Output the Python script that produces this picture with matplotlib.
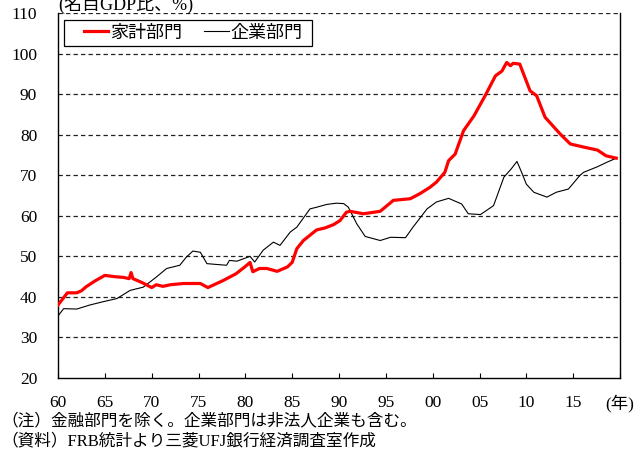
import matplotlib
matplotlib.use("Agg")
import matplotlib.pyplot as plt
from matplotlib.patches import Rectangle

plt.rcParams['font.family'] = ['Liberation Serif', 'Noto Sans CJK JP', 'DejaVu Sans']

# ---- data ----
hh_years = [1960.0, 1960.5, 1961.0, 1962.0, 1962.5, 1963.0, 1964.0, 1965.0, 1966.0, 1967.0,
            1967.6, 1967.8, 1968.0, 1969.0, 1970.0, 1970.5, 1971.2, 1972.0, 1973.4, 1975.2,
            1976.0, 1977.6, 1979.0, 1980.0, 1980.5, 1980.8, 1981.5, 1982.3, 1983.4, 1984.5,
            1985.0, 1985.5, 1986.2, 1987.6, 1988.5, 1989.4, 1990.1, 1990.8, 1991.2, 1992.6,
            1994.4, 1995.8, 1997.6, 1998.6, 1999.7, 2000.4, 2001.3, 2001.7, 2002.4, 2003.3,
            2004.4, 2005.6, 2006.7, 2007.4, 2007.9, 2008.3, 2008.6, 2009.3, 2010.4, 2011.1,
            2012.0, 2013.6, 2014.7, 2016.2, 2017.6, 2018.5, 2019.6]
household = [38.0, 39.5, 41.0, 41.0, 41.5, 42.5, 44.0, 45.3, 45.0, 44.8,
             44.5, 46.0, 44.5, 43.5, 42.3, 43.0, 42.6, 43.0, 43.3, 43.3,
             42.3, 44.0, 45.7, 47.5, 48.5, 46.2, 47.0, 47.0, 46.3, 47.4,
             48.5, 51.9, 53.9, 56.5, 57.0, 57.8, 58.8, 60.9, 61.1, 60.5,
             61.1, 63.8, 64.2, 65.4, 67.0, 68.3, 70.7, 73.6, 75.2, 81.0,
             84.6, 89.6, 94.5, 95.7, 97.8, 97.0, 97.6, 97.4, 90.8, 89.6,
             84.3, 80.2, 77.7, 76.9, 76.2, 74.8, 74.2]

corp_years = [1960.0, 1960.6, 1962.0, 1963.4, 1964.8, 1966.3, 1967.7, 1969.1, 1970.5, 1971.6,
              1973.0, 1973.7, 1974.4, 1975.2, 1975.9, 1976.9, 1978.0, 1978.3, 1979.1, 1980.5,
              1981.0, 1981.9, 1983.0, 1983.7, 1984.8, 1985.5, 1986.9, 1987.6, 1988.7, 1989.7,
              1990.5, 1991.0, 1991.9, 1992.8, 1994.4, 1995.5, 1997.1, 1997.9, 1999.4, 2000.4,
              2001.7, 2003.1, 2003.8, 2005.1, 2006.5, 2007.6, 2008.4, 2009.0, 2009.5, 2010.0,
              2010.8, 2012.2, 2013.2, 2014.5, 2015.7, 2016.1, 2017.6, 2018.6, 2019.6]
corporate = [35.3, 37.1, 37.0, 38.0, 38.8, 39.6, 41.6, 42.4, 44.9, 47.0,
             47.8, 49.8, 51.3, 51.0, 48.2, 48.0, 47.8, 49.0, 48.8, 50.0,
             48.6, 51.5, 53.5, 52.7, 56.0, 57.2, 61.7, 62.1, 62.8, 63.1,
             63.0, 62.1, 58.0, 54.9, 53.9, 54.7, 54.6, 57.2, 61.7, 63.4,
             64.3, 62.9, 60.5, 60.3, 62.5, 69.5, 71.6, 73.4, 70.7, 67.8,
             65.8, 64.6, 65.8, 66.6, 69.9, 70.7, 72.1, 73.2, 74.2]

x_ticks = [1960, 1965, 1970, 1975, 1980, 1985, 1990, 1995, 2000, 2005, 2010, 2015, 2020]
x_labels = ['60', '65', '70', '75', '80', '85', '90', '95', '00', '05', '10', '15', '(年)']
y_ticks = [20, 30, 40, 50, 60, 70, 80, 90, 100, 110]

series_names = ['家計部門', '企業部門']
ylabel = '(名目GDP比、%)'
note1 = '（注）金融部門を除く。企業部門は非法人企業も含む。'
note2 = '（資料）FRB統計より三菱UFJ銀行経済調査室作成'

# ---- figure ----
W, H = 635, 453
fig = plt.figure(figsize=(W/100, H/100), dpi=100)
ax = fig.add_axes([58/W, 75/H, 562/W, 365/H])

ax.plot(corp_years, corporate, color='black', lw=0.8, zorder=3, label=series_names[1])
ax.plot(hh_years, household, color='#ff0000', lw=2.3, zorder=4, label=series_names[0])

ax.set_xlim(1960, 2020)
ax.set_ylim(20, 110)
ax.set_xticks(x_ticks)
ax.set_xticklabels(x_labels)
ax.set_yticks(y_ticks)
ax.tick_params(axis='x', direction='in', length=3.6, width=0.8, pad=12, labelsize=12.5)
ax.tick_params(axis='y', length=0, pad=15, labelsize=12.5)

for yv in y_ticks[1:]:
    ax.axhline(yv, color='#222222', lw=0.9, ls=(0, (3.5, 2.5)), zorder=1)

ax.spines['top'].set_visible(False)
for s in ['left', 'bottom', 'right']:
    ax.spines[s].set_linewidth(1.0)
    ax.spines[s].set_color('black')

# legend frame
frame = Rectangle((64/W, 1 - 46/H), 248/W, 26/H, transform=fig.transFigure,
                  facecolor='white', edgecolor='black', lw=0.9, zorder=5, clip_on=False)
ax.add_patch(frame)

handles, labels = ax.get_legend_handles_labels()
leg = ax.legend([handles[1], handles[0]], [labels[1], labels[0]], loc='center left',
                bbox_to_anchor=(84/W, 1 - 33/H), bbox_transform=fig.transFigure,
                ncol=2, fontsize=13, frameon=False,
                handlelength=1.35, handletextpad=0.12,
                columnspacing=1.2, borderpad=0, borderaxespad=0)
leg.set_zorder(6)

fig.text(58/W, 1 - 4/H, ylabel, fontsize=13, ha='left', va='center')
fig.text(1/W, 1 - 421/H, note1, fontsize=12, ha='left', va='center')
fig.text(1/W, 1 - 441/H, note2, fontsize=12, ha='left', va='center')

fig.savefig('out.png', dpi=100)
